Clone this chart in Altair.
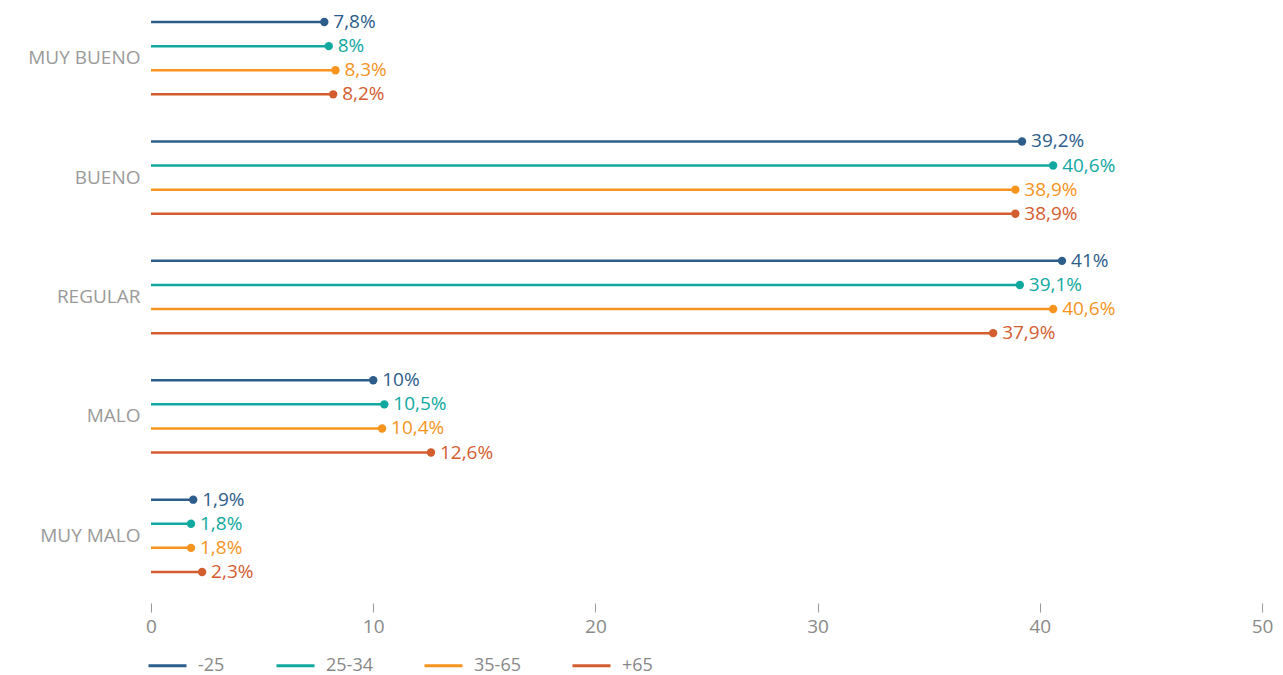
import altair as alt
import pandas as pd

categories = ["MUY BUENO", "BUENO", "REGULAR", "MALO", "MUY MALO"]
series = ["-25", "25-34", "35-65", "+65"]
colors = ["#2d5d8b", "#10a89f", "#f7941e", "#d45d2f"]

vals_m25 = [7.8, 39.2, 41.0, 10.0, 1.9]
vals_25_34 = [8.0, 40.6, 39.1, 10.5, 1.8]
vals_35_65 = [8.3, 38.9, 40.6, 10.4, 1.8]
vals_p65 = [8.2, 38.9, 37.9, 12.6, 2.3]

x_ticks = [0, 10, 20, 30, 40, 50]


def fmt(v):
    if float(v).is_integer():
        return f"{int(v)}%"
    return f"{v:.1f}".replace(".", ",") + "%"


rows = []
for s, vals in zip(series, [vals_m25, vals_25_34, vals_35_65, vals_p65]):
    for c, v in zip(categories, vals):
        rows.append({"cat": c, "grupo": s, "valor": v, "inicio": 0, "etiqueta": fmt(v)})
df = pd.DataFrame(rows)

FONT = "Open Sans"

color_scale = alt.Scale(domain=series, range=colors)

y = alt.Y(
    "cat:N",
    sort=categories,
    scale=alt.Scale(paddingInner=0.193, paddingOuter=0),
    axis=alt.Axis(
        title=None, ticks=False, domain=False, grid=False,
        labelFont=FONT, labelFontSize=19, labelColor="#9a9a9a", labelPadding=11,
    ),
)
yoff = alt.YOffset("grupo:N", sort=series, scale=alt.Scale(paddingInner=0, paddingOuter=0))

x_axis = alt.Axis(
    values=x_ticks, title=None, grid=False, domain=False,
    tickSize=9, tickColor="#999999", tickWidth=1,
    labelColor="#8a8a8a", labelFont=FONT, labelFontSize=19,
    labelFlush=False, labelAlign="center",
    offset=19, labelPadding=5,
)
x_scale = alt.Scale(domain=[0, 50], nice=False)

base = alt.Chart(df).encode(y=y, yOffset=yoff)

rules = base.mark_rule(strokeWidth=2.5).encode(
    x=alt.X("inicio:Q", scale=x_scale, axis=x_axis),
    x2=alt.X2("valor:Q"),
    color=alt.Color(
        "grupo:N",
        scale=color_scale,
        sort=series,
        legend=alt.Legend(
            title=None, orient="none", legendX=-4, legendY=635,
            direction="horizontal", symbolType="stroke", symbolSize=1444,
            symbolStrokeWidth=3, labelFont=FONT, labelFontSize=18,
            labelColor="#888888", labelOffset=10, columnPadding=45,
        ),
    ),
)

points = base.mark_circle(size=70, opacity=1).encode(
    x=alt.X("valor:Q", scale=x_scale, axis=x_axis),
    color=alt.Color("grupo:N", scale=color_scale, legend=None),
)

labels = base.mark_text(align="left", baseline="middle", dx=9, fontSize=19, font=FONT).encode(
    x=alt.X("valor:Q", scale=x_scale, axis=x_axis),
    text="etiqueta:N",
    color=alt.Color("grupo:N", scale=color_scale, legend=None),
)

chart = (
    alt.layer(rules, points, labels)
    .properties(
        width=1111,
        height=574,
        autosize=alt.AutoSizeParams(type="none"),
        padding={"left": 143, "top": 2, "right": 12, "bottom": 91},
    )
    .configure_view(stroke=None)
)

chart.save("out.html", embed_options={"renderer": "svg", "actions": False})
